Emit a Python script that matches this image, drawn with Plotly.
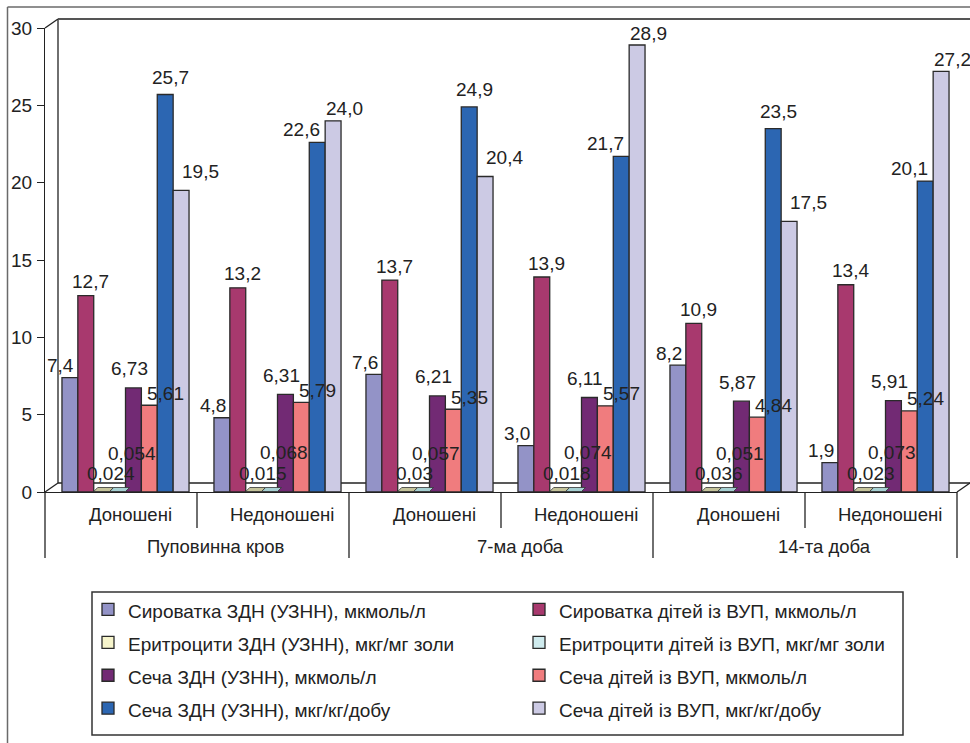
import plotly.graph_objects as go

# Sampling groups (inner level) and time points (outer level)
inner_labels = ["Доношені", "Недоношені", "Доношені", "Недоношені", "Доношені", "Недоношені"]
outer_labels = ["Пуповинна кров", "7-ма доба", "14-та доба"]

series_names = [
    "Сироватка ЗДН (УЗНН), мкмоль/л",
    "Сироватка дітей із ВУП, мкмоль/л",
    "Еритроцити ЗДН (УЗНН), мкг/мг золи",
    "Еритроцити дітей із ВУП, мкг/мг золи",
    "Сеча ЗДН (УЗНН), мкмоль/л",
    "Сеча дітей із ВУП, мкмоль/л",
    "Сеча ЗДН (УЗНН), мкг/кг/добу",
    "Сеча дітей із ВУП, мкг/кг/добу",
]

serum_zdn = [7.4, 4.8, 7.6, 3.0, 8.2, 1.9]
serum_vup = [12.7, 13.2, 13.7, 13.9, 10.9, 13.4]
rbc_zdn = [0.024, 0.015, 0.03, 0.018, 0.036, 0.023]
rbc_vup = [0.054, 0.068, 0.057, 0.074, 0.051, 0.073]
urine_zdn_mkmol = [6.73, 6.31, 6.21, 6.11, 5.87, 5.91]
urine_vup_mkmol = [5.61, 5.79, 5.35, 5.57, 4.84, 5.24]
urine_zdn_mkg = [25.7, 22.6, 24.9, 21.7, 23.5, 20.1]
urine_vup_mkg = [19.5, 24.0, 20.4, 28.9, 17.5, 27.2]

series_values = [serum_zdn, serum_vup, rbc_zdn, rbc_vup,
                 urine_zdn_mkmol, urine_vup_mkmol, urine_zdn_mkg, urine_vup_mkg]

y_ticks = [0, 5, 10, 15, 20, 25, 30]

# --- styling ---
colors = ["#9393C7", "#A8396E", "#F7F5CC", "#CFEBEE", "#722A74", "#F07C7E", "#2C66B2", "#CCCAE4"]
top_face = {2: "#C4C39A", 3: "#A6D0D2"}   # visible top faces of the near-zero columns
decimals = [1, 1, None, None, 2, 2, 1, 1]
# label nudges (px): (dx, dy above bar top)
nudges = [(-9, 12), (5, 14), (9, 18), (14, 38), (-4, 19), (16, 12), (5, 17), (19, 19)]
nudge_blue_short = (-16, 13)   # blue label when the lavender neighbour is taller
nudge_lav_tall = (11, 12)      # lavender label when it is the tallest

W, H = 970, 743
PL, PT, PW, PH = 45, 28, 912, 464
BARGAP = 0.164
DEPTH_SHIFT = 4.5 / 152          # columns sit slightly right of the front category centre
FONT = "Liberation Sans, Arial, sans-serif"
TXT = "#222222"


def px(x):
    return (x - PL) / PW


def py(y):
    return (PT + PH - y) / PH


def fmt(v, d):
    s = f"{v:g}" if d is None else f"{v:.{d}f}"
    return s.replace(".", ",")


xs = list(range(len(inner_labels)))
fig = go.Figure()
for k, (name, vals) in enumerate(zip(series_names, series_values)):
    fig.add_trace(go.Bar(
        x=xs, y=vals,
        name=f"<span style='font-size:19px'>{name}</span>",
        marker=dict(color=colors[k], line=dict(color="#2a2a2a", width=1.3)),
        hoverinfo="y",
    ))

# value labels
nser = len(series_values)
bw = (1 - BARGAP) / nser
annotations = []
for k, vals in enumerate(series_values):
    for i, v in enumerate(vals):
        dx, dy = nudges[k]
        if k == 6 and urine_vup_mkg[i] > v:
            dx, dy = nudge_blue_short
        if k == 7 and v > urine_zdn_mkg[i]:
            dx, dy = nudge_lav_tall
        annotations.append(dict(
            x=i + (k - (nser - 1) / 2) * bw, y=v, xref="x", yref="y",
            text=fmt(v, decimals[k]), showarrow=False,
            xanchor="center", yanchor="middle", xshift=dx, yshift=dy,
            font=dict(family=FONT, size=19, color=TXT),
        ))

# category labels (two-level axis)
for i, lab in enumerate(inner_labels):
    annotations.append(dict(
        x=i, y=py(514), xref="x", yref="paper", text=lab, showarrow=False,
        xanchor="center", yanchor="middle", xshift=4.5,
        font=dict(family=FONT, size=18.5, color=TXT),
    ))
for j, lab in enumerate(outer_labels):
    annotations.append(dict(
        x=2 * j + 0.5, y=py(546), xref="x", yref="paper", text=lab, showarrow=False,
        xanchor="center", yanchor="middle", xshift=14.5,
        font=dict(family=FONT, size=18.5, color=TXT),
    ))


def seg(x0, y0, x1, y1, color="#222222", width=1.3, layer="above"):
    return dict(type="line", xref="paper", yref="paper",
                x0=px(x0), y0=py(y0), x1=px(x1), y1=py(y1),
                line=dict(color=color, width=width), layer=layer)


shapes = [
    # outer frame
    seg(7.5, 7, 7.5, 745, "#6a6a6a", 1.5),
    seg(7.5, 7, 972, 7, "#6a6a6a", 1.5),
    # 3D walls and floor
    seg(58, 19, 972, 19, "#555555", 2),
    seg(58, 19, 58, 483, "#222222", 1.3, "below"),
    seg(45, 28, 58, 19),
    seg(58, 483, 972, 483, "#222222", 1.3, "below"),
    seg(45, 492, 58, 483, layer="below"),
    seg(957, 492, 970, 483),
    # axis extension and dividers
    seg(45, 492, 45, 558),
]
for xb in (197, 501, 805):
    shapes.append(seg(xb, 492, xb, 528))
for xb in (349, 653, 957):
    shapes.append(seg(xb, 492, xb, 558))

# flat top faces of the near-zero erythrocyte columns
skew = 4.0 / 152
for k, fc in top_face.items():
    for i in xs:
        xl = i + (k - (nser - 1) / 2) * bw - bw / 2
        xr = xl + bw
        y0, y1 = py(491.5), py(487.5)
        shapes.append(dict(
            type="path", xref="x", yref="paper",
            path=f"M {xl} {y0} L {xr} {y0} L {xr + skew} {y1} L {xl + skew} {y1} Z",
            fillcolor=fc, line=dict(color="#333333", width=0.8), layer="above",
        ))

# legend frame
shapes.append(dict(type="rect", xref="paper", yref="paper",
                   x0=px(92), y0=py(592), x1=px(903), y1=py(735),
                   line=dict(color="#333333", width=1.5), fillcolor="rgba(0,0,0,0)",
                   layer="below"))

fig.update_layout(
    width=W, height=H,
    margin=dict(l=PL, r=W - PL - PW, t=PT, b=H - PT - PH, autoexpand=False),
    paper_bgcolor="white", plot_bgcolor="rgba(0,0,0,0)",
    barmode="group", bargap=BARGAP, bargroupgap=0,
    font=dict(family=FONT, color=TXT),
    xaxis=dict(range=[-0.5 - DEPTH_SHIFT, len(xs) - 0.5 - DEPTH_SHIFT],
               showticklabels=False, showgrid=False,
               zeroline=False, showline=True, linecolor="#222222", linewidth=1.3,
               fixedrange=True),
    yaxis=dict(range=[0, 30], tickvals=y_ticks, ticks="outside", ticklen=7,
               tickcolor="#222222", tickwidth=1.2, showgrid=False, zeroline=False,
               showline=True, linecolor="#222222", linewidth=1.3,
               tickfont=dict(family=FONT, size=19, color=TXT), ticklabelstandoff=1),
    legend=dict(
        orientation="h", x=px(88), y=py(588), xanchor="left", yanchor="top",
        entrywidth=386, entrywidthmode="pixels", itemwidth=30,
        font=dict(family=FONT, size=23, color=TXT),
        borderwidth=0, bgcolor="rgba(0,0,0,0)",
        traceorder="normal",
    ),
    showlegend=True,
    annotations=annotations,
    shapes=shapes,
)

fig.write_html("out.html")
